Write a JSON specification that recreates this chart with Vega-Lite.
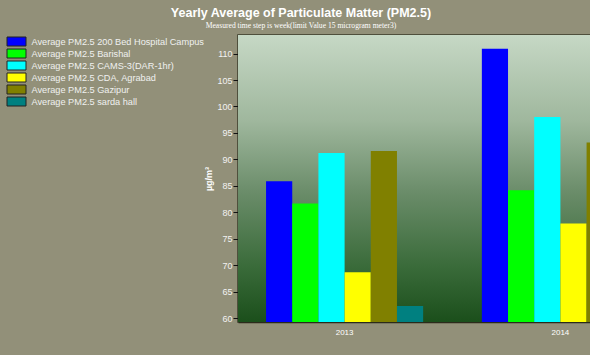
{
  "$schema": "https://vega.github.io/schema/vega-lite/v6.json",
  "width": 352,
  "height": 287,
  "autosize": {"type": "none"},
  "padding": {"left": 238, "top": 35, "right": 0, "bottom": 33},
  "background": "#929079",
  "config": {
    "view": {"stroke": "#3a3a28", "strokeWidth": 1.5},
    "font": "Liberation Sans"
  },
  "title": {
    "text": "Yearly Average of Particulate Matter (PM2.5)",
    "subtitle": "Measured time step is week(limit Value 15 microgram meter3)",
    "anchor": "middle",
    "frame": "group",
    "dx": -113,
    "offset": 5,
    "font": "Liberation Sans",
    "fontSize": 12.5,
    "fontWeight": "bold",
    "color": "#ffffff",
    "subtitleFont": "Liberation Serif",
    "subtitleFontSize": 7.6,
    "subtitleColor": "#ffffff",
    "subtitlePadding": 3
  },
  "layer": [
    {
      "data": {"values": [{"bg": 1}]},
      "mark": {
        "type": "rect",
        "color": {
          "gradient": "linear",
          "x1": 0, "y1": 0, "x2": 0, "y2": 1,
          "stops": [
            {"offset": 0, "color": "#c6d8c5"},
            {"offset": 0.3, "color": "#9fb79d"},
            {"offset": 0.55, "color": "#6a8c69"},
            {"offset": 0.8, "color": "#3b6c3b"},
            {"offset": 1, "color": "#1b4f1b"}
          ]
        }
      },
      "encoding": {
        "x": {"value": 0},
        "x2": {"value": "width"},
        "y": {"value": 0},
        "y2": {"value": "height"}
      }
    },
    {
      "data": {
        "values": [
          {"year": "2013", "site": "Average PM2.5 200 Bed Hospital Campus", "pm": 85.9},
          {"year": "2013", "site": "Average PM2.5 Barishal", "pm": 81.7},
          {"year": "2013", "site": "Average PM2.5 CAMS-3(DAR-1hr)", "pm": 91.2},
          {"year": "2013", "site": "Average PM2.5 CDA, Agrabad", "pm": 68.7},
          {"year": "2013", "site": "Average PM2.5 Gazipur", "pm": 91.6},
          {"year": "2013", "site": "Average PM2.5 sarda hall", "pm": 62.3},
          {"year": "2014", "site": "Average PM2.5 200 Bed Hospital Campus", "pm": 110.9},
          {"year": "2014", "site": "Average PM2.5 Barishal", "pm": 84.2},
          {"year": "2014", "site": "Average PM2.5 CAMS-3(DAR-1hr)", "pm": 98.0},
          {"year": "2014", "site": "Average PM2.5 CDA, Agrabad", "pm": 77.9},
          {"year": "2014", "site": "Average PM2.5 Gazipur", "pm": 93.2}
        ]
      },
      "mark": {"type": "bar", "clip": true},
      "encoding": {
        "x": {
          "field": "year",
          "type": "nominal",
          "scale": {"domain": ["2013", "2014"], "range": [0, 429], "paddingInner": 0.272, "paddingOuter": 0.13},
          "axis": {
            "title": null,
            "labelAngle": 0,
            "labelColor": "#ffffff",
            "labelFontSize": 8,
            "labelPadding": 12,
            "tickColor": "#111111",
            "tickSize": -6,
            "domainColor": "#2a2a1a",
            "domainWidth": 1.5
          }
        },
        "xOffset": {
          "field": "site",
          "type": "nominal",
          "scale": {"paddingInner": 0, "paddingOuter": 0},
          "sort": null
        },
        "y": {
          "field": "pm",
          "type": "quantitative",
          "scale": {"domain": [59.3, 113.5], "nice": false, "zero": false},
          "axis": {
            "title": "µg/m³",
            "titleColor": "#ffffff",
            "titleFontSize": 9,
            "titleFontWeight": "bold",
            "titlePadding": 3,
            "values": [60, 65, 70, 75, 80, 85, 90, 95, 100, 105, 110],
            "labelColor": "#f2f2f2",
            "labelFontSize": 9,
            "labelPadding": 1,
            "tickColor": "#111111",
            "tickSize": 5,
            "grid": false,
            "domain": false
          }
        },
        "color": {
          "field": "site",
          "type": "nominal",
          "sort": null,
          "scale": {
            "domain": [
              "Average PM2.5 200 Bed Hospital Campus",
              "Average PM2.5 Barishal",
              "Average PM2.5 CAMS-3(DAR-1hr)",
              "Average PM2.5 CDA, Agrabad",
              "Average PM2.5 Gazipur",
              "Average PM2.5 sarda hall"
            ],
            "range": ["#0000ff", "#00ff00", "#00ffff", "#ffff00", "#808000", "#008080"]
          },
          "legend": {
            "title": null,
            "orient": "none",
            "legendX": -227,
            "legendY": 1,
            "symbolType": "M-1.9,-0.9H1.9V0.9H-1.9Z",
            "symbolSize": 100,
            "symbolStrokeColor": "#222222",
            "symbolStrokeWidth": 1,
            "symbolOpacity": 1,
            "labelColor": "#f0f0f0",
            "labelFontSize": 9.2,
            "labelOffset": 9.5,
            "labelLimit": 220,
            "rowPadding": -2
          }
        }
      }
    }
  ]
}
